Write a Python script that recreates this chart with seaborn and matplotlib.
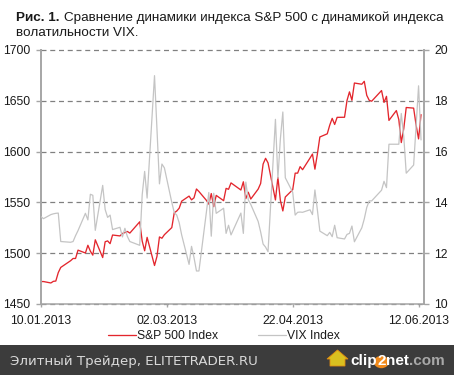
import matplotlib
matplotlib.use('Agg')
import matplotlib.pyplot as plt
import pandas as pd
import seaborn as sns
from matplotlib.patches import Rectangle, Polygon, Circle

# ---------------- data ----------------
dates = [
    '2013-01-10', '2013-01-11', '2013-01-14', '2013-01-15', '2013-01-16', '2013-01-17', '2013-01-18',
    '2013-01-22', '2013-01-23', '2013-01-24', '2013-01-25', '2013-01-28', '2013-01-29', '2013-01-30',
    '2013-01-31',
    '2013-02-01', '2013-02-04', '2013-02-05', '2013-02-06', '2013-02-07', '2013-02-08', '2013-02-11',
    '2013-02-12', '2013-02-13', '2013-02-14', '2013-02-15', '2013-02-19', '2013-02-20', '2013-02-21',
    '2013-02-22', '2013-02-25', '2013-02-26', '2013-02-27', '2013-02-28',
    '2013-03-01', '2013-03-04', '2013-03-05', '2013-03-06', '2013-03-07', '2013-03-08', '2013-03-11',
    '2013-03-12', '2013-03-13', '2013-03-14', '2013-03-15', '2013-03-18', '2013-03-19', '2013-03-20',
    '2013-03-21', '2013-03-22', '2013-03-25', '2013-03-26', '2013-03-27', '2013-03-28',
    '2013-04-01', '2013-04-02', '2013-04-03', '2013-04-04', '2013-04-05', '2013-04-08', '2013-04-09',
    '2013-04-10', '2013-04-11', '2013-04-12', '2013-04-15', '2013-04-16', '2013-04-17', '2013-04-18',
    '2013-04-19', '2013-04-22', '2013-04-23', '2013-04-24', '2013-04-25', '2013-04-26', '2013-04-29',
    '2013-04-30',
    '2013-05-01', '2013-05-02', '2013-05-03', '2013-05-06', '2013-05-07', '2013-05-08', '2013-05-09',
    '2013-05-10', '2013-05-13', '2013-05-14', '2013-05-15', '2013-05-16', '2013-05-17', '2013-05-20',
    '2013-05-21', '2013-05-22', '2013-05-23', '2013-05-24', '2013-05-28', '2013-05-29', '2013-05-30',
    '2013-05-31',
    '2013-06-03', '2013-06-04', '2013-06-05', '2013-06-06', '2013-06-07', '2013-06-10', '2013-06-11',
    '2013-06-12', '2013-06-13',
]

sp500 = [
    1472.1, 1472.1, 1470.7, 1472.3, 1472.6, 1480.9, 1486.0, 1492.6, 1494.8, 1494.8, 1503.0, 1500.2,
    1507.8, 1502.0, 1498.1,
    1513.2, 1495.7, 1511.3, 1512.1, 1509.4, 1517.9, 1517.0, 1519.4, 1520.3, 1521.4, 1519.8, 1530.9,
    1512.0, 1502.4, 1515.6, 1487.9, 1496.9, 1516.0, 1514.7,
    1518.2, 1525.2, 1539.8, 1541.5, 1544.3, 1551.2, 1556.2, 1552.5, 1554.5, 1563.2, 1560.7, 1552.1,
    1548.3, 1558.7, 1545.8, 1556.9, 1551.7, 1563.8, 1562.9, 1569.2,
    1562.2, 1570.3, 1553.7, 1560.0, 1553.3, 1563.1, 1568.6, 1587.7, 1593.4, 1588.9, 1552.4, 1574.6,
    1552.0, 1541.6, 1555.3, 1562.5, 1578.8, 1578.8, 1585.2, 1582.2, 1593.6, 1597.6,
    1582.7, 1597.6, 1614.4, 1617.5, 1626.0, 1632.7, 1626.7, 1633.7, 1633.8, 1650.3, 1658.8, 1650.5,
    1667.5, 1666.3, 1669.2, 1655.4, 1650.5, 1649.6, 1660.1, 1648.4, 1654.4, 1630.7,
    1640.4, 1631.4, 1608.9, 1622.6, 1643.4, 1642.8, 1626.1, 1612.5, 1636.4,
]

vix = [
    13.44, 13.36, 13.52, 13.55, 13.57, 13.58, 12.46, 12.43, 12.46, 12.69, 12.89, 13.57, 13.31, 14.32,
    14.28,
    12.90, 14.67, 13.72, 13.41, 13.50, 12.93, 13.02, 12.64, 12.98, 12.66, 12.46, 12.31, 14.29, 15.22,
    14.17, 18.99, 16.87, 14.73, 15.51,
    15.36, 14.00, 13.60, 13.50, 13.20, 12.72, 11.56, 12.27, 11.83, 11.30, 11.30, 13.60, 14.39, 12.67,
    14.36, 13.57, 13.77, 12.78, 13.10, 12.72,
    13.58, 12.78, 14.80, 14.10, 13.92, 13.25, 12.84, 12.36, 12.24, 12.06, 17.27, 14.95, 16.50, 17.56,
    14.97, 14.40, 13.50, 13.61, 13.62, 13.61, 13.71, 13.52,
    14.49, 13.70, 12.87, 12.69, 12.82, 12.65, 13.10, 12.61, 12.56, 12.74, 12.78, 13.07, 12.45, 13.00,
    13.35, 13.80, 14.06, 14.06, 14.48, 14.83, 14.58, 16.29,
    16.29, 16.29, 17.50, 16.60, 15.15, 15.47, 17.00, 18.59, 16.46,
]

series_names = ['S&P 500 Index', 'VIX Index']
xtick_labels = ['10.01.2013', '02.03.2013', '22.04.2013', '12.06.2013']
sp_ticks = [1450, 1500, 1550, 1600, 1650, 1700]
vix_ticks = [10, 12, 14, 16, 18, 20]
title_bold = 'Рис. 1.'
title_line1 = 'Сравнение динамики индекса S&P 500 с динамикой индекса'
title_line2 = 'волатильности VIX.'
footer_text = 'Элитный Трейдер, ELITETRADER.RU'

# ---------------- figure ----------------
df = pd.DataFrame({'date': pd.to_datetime(dates), 'sp': sp500, 'vix': vix})

sns.set_theme(style='white')
plt.rcParams['font.family'] = ['Liberation Sans', 'DejaVu Sans']

W, H = 454, 375
fig = plt.figure(figsize=(W / 100, H / 100), dpi=100)
fig.patch.set_facecolor('white')

L, R, T, B = 41, 423.5, 50, 304
ax = fig.add_axes([L / W, 1 - B / H, (R - L) / W, (B - T) / H])
ax2 = ax.twinx()

RED = '#E3262D'
GREY_LINE = '#C4C4C4'
SPINE = '#A6A6A6'
TXT = '#1a1a1a'
FS = 8.7

sns.lineplot(data=df, x='date', y='sp', ax=ax, color=RED, lw=0.95, legend=False)
sns.lineplot(data=df, x='date', y='vix', ax=ax2, color=GREY_LINE, lw=0.9, legend=False)

xt = pd.to_datetime(xtick_labels, format='%d.%m.%Y')
ax.set_xlim(pd.Timestamp('2013-01-10'), pd.Timestamp('2013-06-14'))
ax.set_xticks(xt)
ax.set_xticklabels(xtick_labels)
ax.set_ylim(sp_ticks[0], sp_ticks[-1])
ax.set_yticks(sp_ticks)
ax.set_yticklabels([str(v) for v in sp_ticks])
ax2.set_ylim(vix_ticks[0], vix_ticks[-1])
ax2.set_yticks(vix_ticks)
ax2.set_yticklabels([str(v) for v in vix_ticks])
for a in (ax, ax2):
    a.set_xlabel('')
    a.set_ylabel('')
    a.set_facecolor('none')

# grid
ax.grid(axis='y', color='#808080', linestyle=(0, (4, 3)), linewidth=0.9)
ax.grid(axis='x', visible=False)
for gl in ax.get_ygridlines():
    gl.set_clip_on(False)

# spines
for s in ('top', 'right'):
    ax.spines[s].set_visible(False)
for s in ('top', 'left', 'bottom'):
    ax2.spines[s].set_visible(False)
ax.spines['left'].set_color(SPINE)
ax.spines['left'].set_linewidth(1.4)
ax.spines['bottom'].set_color(SPINE)
ax.spines['bottom'].set_linewidth(1.1)
ax2.spines['right'].set_color(SPINE)
ax2.spines['right'].set_linewidth(1.4)

ax.tick_params(axis='y', left=True, direction='out', length=3.5, width=1, color=SPINE,
               pad=4.2, labelsize=FS, labelcolor=TXT)
ax.tick_params(axis='x', bottom=True, direction='out', length=2.5, width=1, color=SPINE,
               pad=5.5, labelsize=FS, labelcolor=TXT)
ax2.tick_params(axis='y', right=True, direction='out', length=3.5, width=1, color=SPINE,
                pad=4.2, labelsize=FS, labelcolor=TXT)

# legend
handles = [ax.get_lines()[0], ax2.get_lines()[0]]
fig.legend(handles, series_names, loc='center', bbox_to_anchor=(224 / W, 1 - 336 / H),
           ncol=2, frameon=False, fontsize=FS, handlelength=2.3, handletextpad=0.1,
           columnspacing=3.3, borderpad=0, borderaxespad=0, labelcolor=TXT)

# title
TFS = 9.7
t1 = fig.text(16 / W, 1 - 20.7 / H, title_bold, fontsize=TFS, fontweight='bold', color=TXT,
              va='baseline', ha='left')
fig.canvas.draw()
rend = fig.canvas.get_renderer()
bb = t1.get_window_extent(rend)
fig.text((bb.x1 + 4.0) / W, 1 - 20.7 / H, title_line1, fontsize=TFS, color=TXT,
         va='baseline', ha='left')
fig.text(16 / W, 1 - 36 / H, title_line2, fontsize=TFS, color=TXT, va='baseline', ha='left')

# footer band
fig.patches.append(Rectangle((0, 0), 1, 30 / H, transform=fig.transFigure,
                             facecolor='#3c3c3c', edgecolor='none', zorder=0))
fig.text(10 / W, 1 - 365 / H, footer_text, fontsize=9.65, family='DejaVu Sans',
         color='#d9d9d9', va='baseline', ha='left')

# clip2net logo
arrow = [(330, 366), (345, 366), (345, 359), (348, 359), (337.5, 350), (327, 359), (330, 359)]
fig.patches.append(Polygon([(x / W, 1 - y / H) for x, y in arrow], closed=True,
                           transform=fig.transFigure, facecolor='#d9c020', edgecolor='#e08a10',
                           lw=0.6, zorder=2))
pieces = [('clip', 'white'), ('2', 'white'), ('net', 'white'), ('.com', '#a8a8a8')]
x = 350
base_y = 1 - 365 / H
for txt, col in pieces:
    t = fig.text(x / W, base_y, txt, fontsize=11, fontweight='bold', color=col,
                 va='baseline', ha='left', zorder=3)
    fig.canvas.draw()
    b = t.get_window_extent(rend)
    if txt == '2':
        cx, cy = (b.x0 + b.x1) / 2, (b.y0 + b.y1) / 2 - 1
        fig.patches.append(Circle((cx / W, cy / H), 7.5 / W, transform=fig.transFigure,
                                  facecolor='#f08a1c', edgecolor='none', zorder=2))
    x = b.x1 + 0.5

fig.savefig('out.png', dpi=100)
